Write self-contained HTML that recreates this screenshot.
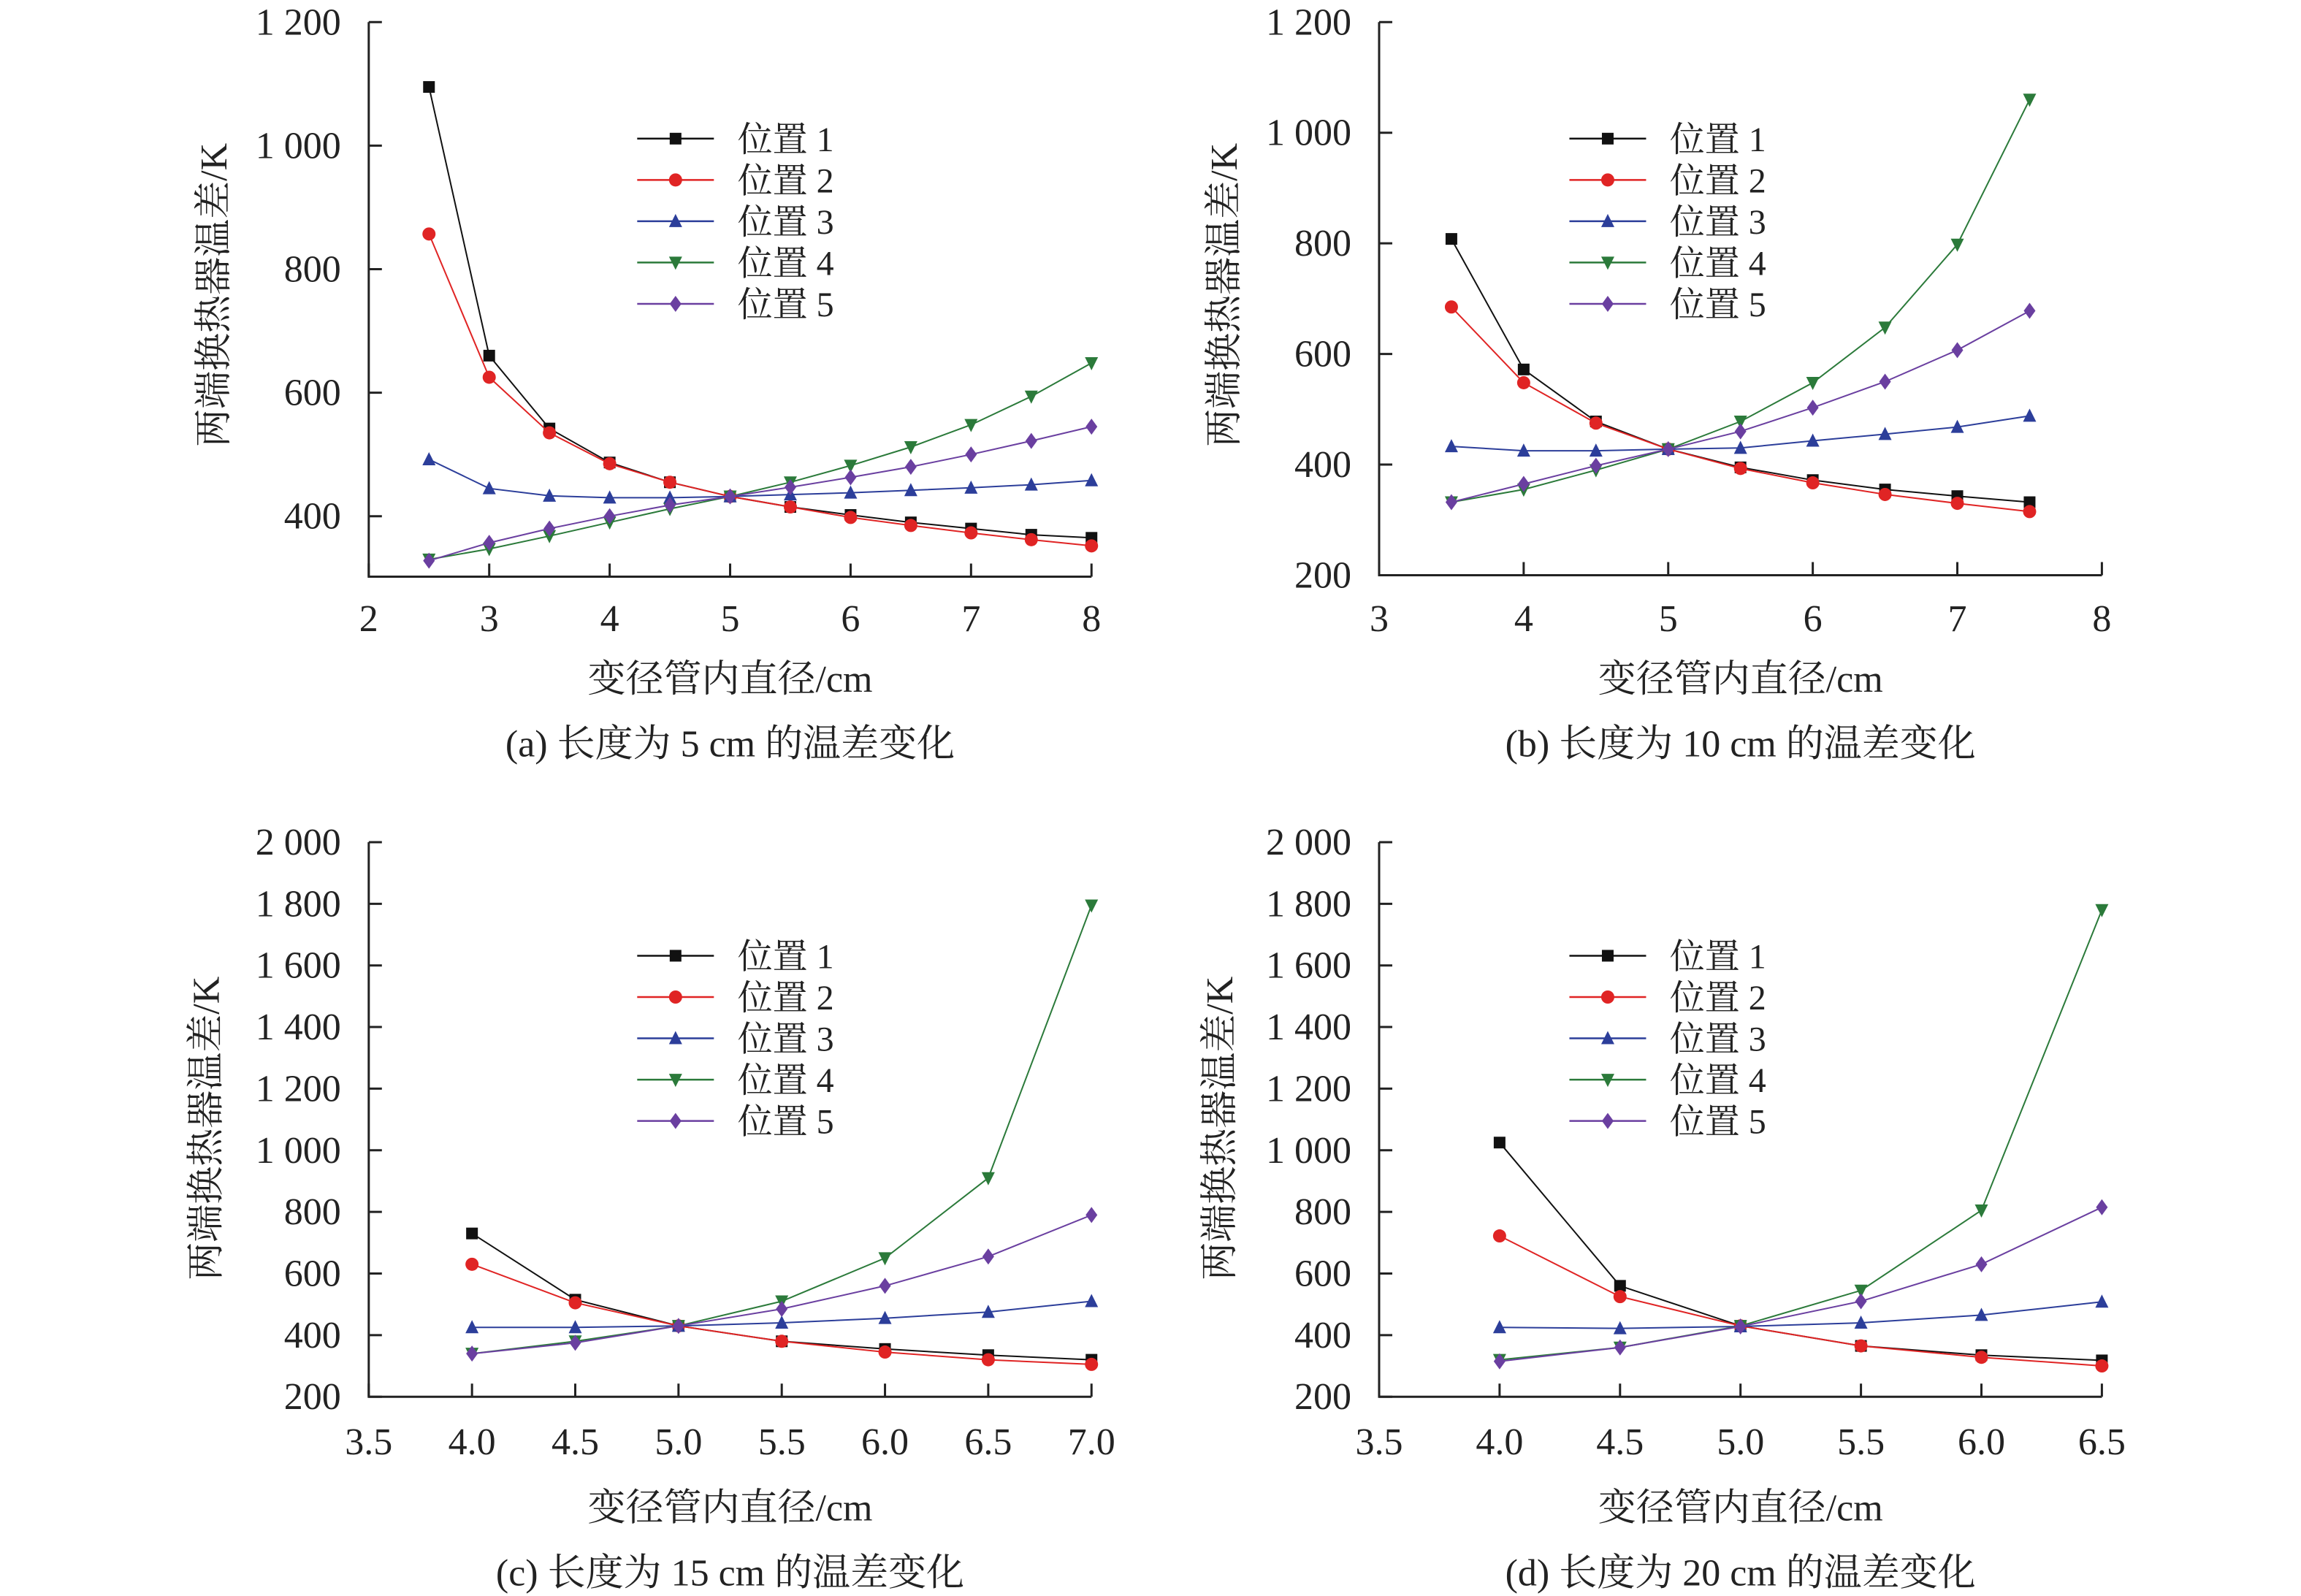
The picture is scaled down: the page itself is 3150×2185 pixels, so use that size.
<!DOCTYPE html>
<html><head><meta charset="utf-8"><style>
html,body{margin:0;padding:0;background:#fff}
svg{display:block}
text{font-family:"Liberation Serif","Noto Serif CJK SC",serif;fill:#222}
</style></head><body>
<svg id="chart" width="3150" height="2185" viewBox="0 0 3150 2185" xmlns="http://www.w3.org/2000/svg"></svg>
<script>
const seriesNames = ["位置 1","位置 2","位置 3","位置 4","位置 5"];
const colors = ["#111111","#e02424","#2c3e9a","#2b7a3a","#6a3fa0"];
const markers = ["square","circle","triangle","tridown","diamond"];

const xA = [2.5,3,3.5,4,4.5,5,5.5,6,6.5,7,7.5,8];
const a1 = [1095,660,542,487,455,432,415,402,390,380,370,365];
const a2 = [857,625,535,485,455,432,415,398,385,373,362,352];
const a3 = [492,445,433,430,430,432,435,438,442,446,451,458];
const a4 = [330,347,368,390,412,432,455,482,512,548,594,648];
const a5 = [328,357,380,400,418,432,447,463,480,500,522,545];

const xB = [3.5,4,4.5,5,5.5,6,6.5,7,7.5];
const b1 = [808,572,478,428,395,372,355,343,332];
const b2 = [685,548,475,428,393,367,346,330,315];
const b3 = [433,425,425,428,430,443,455,468,488];
const b4 = [332,355,390,428,478,548,648,798,1060];
const b5 = [332,365,398,428,460,503,550,607,678];

const xC = [4.0,4.5,5.0,5.5,6.0,6.5,7.0];
const c1 = [730,515,430,380,355,335,320];
const c2 = [630,505,430,380,345,320,305];
const c3 = [425,425,430,440,455,475,510];
const c4 = [340,380,430,510,650,910,1795];
const c5 = [340,375,430,485,560,655,790];

const xD = [4.0,4.5,5.0,5.5,6.0,6.5];
const d1 = [1025,560,430,365,335,318];
const d2 = [722,525,430,365,328,300];
const d3 = [425,422,428,440,465,508];
const d4 = [320,360,430,545,805,1780];
const d5 = [315,360,428,510,630,815];

const ticksXA = [2,3,4,5,6,7,8];
const ticksYA = [400,600,800,1000,1200];
const ticksXB = [3,4,5,6,7,8];
const ticksYB = [200,400,600,800,1000,1200];
const ticksXC = [3.5,4.0,4.5,5.0,5.5,6.0,6.5,7.0];
const ticksYC = [200,400,600,800,1000,1200,1400,1600,1800,2000];
const ticksXD = [3.5,4.0,4.5,5.0,5.5,6.0,6.5];
const ticksYD = ticksYC;

const captions = ["(a) 长度为 5 cm 的温差变化","(b) 长度为 10 cm 的温差变化","(c) 长度为 15 cm 的温差变化","(d) 长度为 20 cm 的温差变化"];

const S = 3150/1560;
const NS = "http://www.w3.org/2000/svg";
const svg = document.getElementById('chart');
function el(tag, attrs, parent){
  const e = document.createElementNS(NS, tag);
  for (const k in attrs) e.setAttribute(k, attrs[k]);
  (parent||svg).appendChild(e);
  return e;
}
function fmt(v, dec){
  if (dec) return v.toFixed(1);
  const s = String(v);
  return s.length > 3 ? s.slice(0, s.length-3) + " " + s.slice(-3) : s;
}
function marker(g, type, x, y, color){
  const r = 8;
  let m;
  if (type==="square") m = el('rect',{x:x-r,y:y-r,width:2*r,height:2*r,fill:color},g);
  else if (type==="circle") m = el('circle',{cx:x,cy:y,r:r+1,fill:color},g);
  else if (type==="triangle") m = el('polygon',{points:`${x},${y-r-2} ${x-r-1},${y+r} ${x+r+1},${y+r}`,fill:color},g);
  else if (type==="tridown") m = el('polygon',{points:`${x},${y+r+2} ${x-r-1},${y-r} ${x+r+1},${y-r}`,fill:color},g);
  else m = el('polygon',{points:`${x},${y-r-3} ${x-r},${y} ${x},${y+r+3} ${x+r},${y}`,fill:color},g);
  
  
  return m;
}
const panels = [
  {id:"a", xs:xA, ys:[a1,a2,a3,a4,a5], tx:ticksXA, ty:ticksYA, dec:false,
   ax:250, xmin:2, xmax:8, xr:740, yTopV:1200, yTopP:15, yBotV:400, yBotP:350, axisY:391, topY:15,
   ylab:145, ylabY:200, tickLblY:419, xTitleY:460, capY:504, legX:432, legY:94},
  {id:"b", xs:xB, ys:[b1,b2,b3,b4,b5], tx:ticksXB, ty:ticksYB, dec:false,
   ax:935, xmin:3, xmax:8, xr:1425, yTopV:1200, yTopP:15, yBotV:200, yBotP:390, axisY:390, topY:15,
   ylab:830, ylabY:200, tickLblY:419, xTitleY:460, capY:504, legX:1064, legY:94},
  {id:"c", xs:xC, ys:[c1,c2,c3,c4,c5], tx:ticksXC, ty:ticksYC, dec:true,
   ax:250, xmin:3.5, xmax:7.0, xr:740, yTopV:2000, yTopP:571, yBotV:200, yBotP:947, axisY:947, topY:571,
   ylab:140, ylabY:765, tickLblY:977, xTitleY:1022, capY:1066, legX:432, legY:648},
  {id:"d", xs:xD, ys:[d1,d2,d3,d4,d5], tx:ticksXD, ty:ticksYD, dec:true,
   ax:935, xmin:3.5, xmax:6.5, xr:1425, yTopV:2000, yTopP:571, yBotV:200, yBotP:947, axisY:947, topY:571,
   ylab:827, ylabY:765, tickLblY:977, xTitleY:1022, capY:1066, legX:1064, legY:648}
];
panels.forEach(p=>{
  const g = el('g',{});
  
  
  const X = v => (p.ax + (v-p.xmin)/(p.xmax-p.xmin)*(p.xr-p.ax))*S;
  const Y = v => (p.yBotP + (v-p.yBotV)/(p.yTopV-p.yBotV)*(p.yTopP-p.yBotP))*S;
  const x0 = p.ax*S, y0 = p.axisY*S;
  const axes = el('path',{d:`M${x0},${p.topY*S} V${y0} H${p.xr*S}`,stroke:"#222","stroke-width":3,fill:"none"},g);
  
  
  p.ty.forEach(v=>{
    const y = Y(v);
    el('line',{x1:x0,x2:x0+18,y1:y,y2:y,stroke:"#222","stroke-width":3},g);
    const t = el('text',{x:x0-38,y:y+17,"text-anchor":"end","font-size":52},g);
    t.textContent = fmt(v,false);
    
    
  });
  p.tx.forEach(v=>{
    const x = X(v);
    el('line',{x1:x,x2:x,y1:y0,y2:y0-18,stroke:"#222","stroke-width":3},g);
    const t = el('text',{x:x,y:p.tickLblY*S+18,"text-anchor":"middle","font-size":52},g);
    t.textContent = fmt(v,p.dec);
    
    
  });
  const xt = el('text',{x:((p.ax+p.xr)/2)*S,y:p.xTitleY*S+18,"text-anchor":"middle","font-size":52},g);
  xt.textContent = "变径管内直径/cm";
  
  
  const yt = el('text',{x:0,y:0,"text-anchor":"middle","font-size":52,transform:`translate(${p.ylab*S+17},${p.ylabY*S}) rotate(-90)`},g);
  yt.textContent = "两端换热器温差/K";
  
  
  const cap = el('text',{x:((p.ax+p.xr)/2)*S,y:p.capY*S+18,"text-anchor":"middle","font-size":52},g);
  cap.textContent = captions["abcd".indexOf(p.id)];
  
  
  p.ys.forEach((ser,i)=>{
    const sg = el('g',{},g);
    
    
    const pts = ser.map((v,j)=>`${X(p.xs[j]).toFixed(1)},${Y(v).toFixed(1)}`).join(' ');
    el('polyline',{points:pts,fill:"none",stroke:colors[i],"stroke-width":2},sg);
    ser.forEach((v,j)=>marker(sg,markers[i],X(p.xs[j]),Y(v),colors[i]));
  });
  const lg = el('g',{},g);
  
  
  seriesNames.forEach((n,i)=>{
    const ly = (p.legY + i*28)*S;
    const lx = p.legX*S;
    el('line',{x1:lx,x2:lx+52*S,y1:ly,y2:ly,stroke:colors[i],"stroke-width":2.5},lg);
    marker(lg,markers[i],lx+26*S,ly,colors[i]);
    const t = el('text',{x:lx+68*S,y:ly+17,"font-size":48},lg);
    t.textContent = n;
    
    
  });
});
</script>
</body></html>
